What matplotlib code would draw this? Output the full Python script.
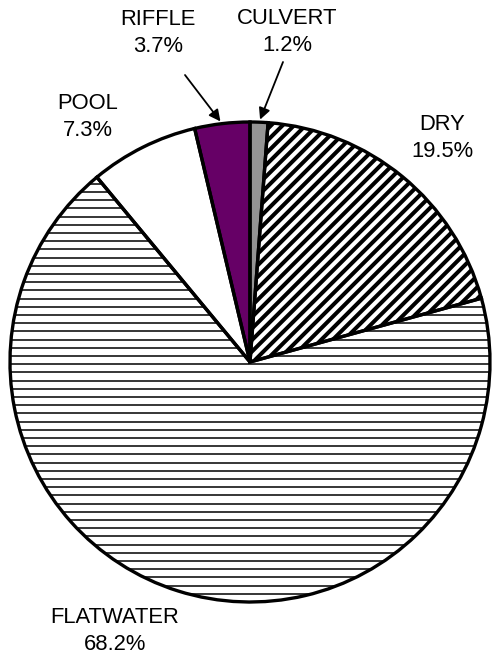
import numpy as np
import matplotlib.pyplot as plt
from matplotlib.collections import LineCollection

plt.rcParams['font.family'] = ['Liberation Sans', 'DejaVu Sans']

habitats = ["CULVERT", "DRY", "FLATWATER", "POOL", "RIFFLE"]
shares = [1.2, 19.5, 68.2, 7.3, 3.7]
fills = ["#949494", "white", "white", "white", "#660066"]

W, H = 492, 656
fig = plt.figure(figsize=(W / 100, H / 100), dpi=100)
ax = fig.add_axes([0, 0, 1, 1])

cx, cy, r = 250, H - 362, 240

# fills first, outlines on top after the hatching
fill_wedges, _ = ax.pie(shares, colors=fills, startangle=90, counterclock=False,
                        center=(cx, cy), radius=r, normalize=True,
                        wedgeprops=dict(linewidth=0), frame=True)


def hatch(wedge, segs, lw):
    lc = LineCollection(segs, colors="black", linewidths=lw, zorder=2)
    ax.add_collection(lc)
    lc.set_clip_path(wedge)


# DRY: thick diagonal stripes
offs = np.arange(-2 * r, 2 * r, 11.5)
segs = [[(cx - r + o, cy - r), (cx + r + o, cy + r)] for o in offs]
hatch(fill_wedges[1], segs, 2.9)

# FLATWATER: thin horizontal lines
ys = np.arange(cy - r, cy + r, 8.2)
segs = [[(cx - r, y), (cx + r, y)] for y in ys]
hatch(fill_wedges[2], segs, 1.1)

ax.pie(shares, colors=["none"] * len(shares), startangle=90, counterclock=False,
       center=(cx, cy), radius=r, normalize=True,
       wedgeprops=dict(linewidth=2.4, edgecolor="black", zorder=3), frame=True)

# label positions (pixels from top-left)
label_pos = {"CULVERT": (287, 32), "DRY": (442, 138), "FLATWATER": (115, 631),
             "POOL": (88, 117), "RIFFLE": (158, 33)}
arrow_tail = {"CULVERT": (283, 62), "RIFFLE": (185, 75)}

cum = np.cumsum([0] + shares) / sum(shares)
for i, (name, pct) in enumerate(zip(habitats, shares)):
    lx, ly = label_pos[name]
    ax.text(lx, H - ly, f"{name}\n{pct}%", ha="center", va="center",
            fontsize=15.8, linespacing=1.32, zorder=5)
    if name in arrow_tail:
        mid = np.deg2rad(90 - 360 * (cum[i] + cum[i + 1]) / 2)
        tip = (cx + r * np.cos(mid), cy + r * np.sin(mid))
        tx, ty = arrow_tail[name]
        ax.annotate("", xy=tip, xytext=(tx, H - ty),
                    arrowprops=dict(arrowstyle="-|>", color="black", lw=1.3,
                                    mutation_scale=17, shrinkA=0, shrinkB=2),
                    zorder=6)

ax.set_xlim(0, W)
ax.set_ylim(0, H)
ax.set_aspect("auto")
ax.axis("off")

fig.savefig("out.png", dpi=100)
